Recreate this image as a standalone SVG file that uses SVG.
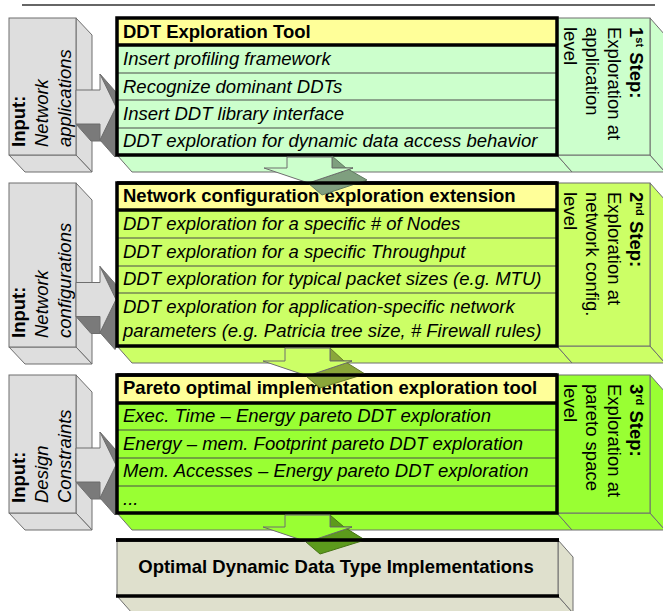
<svg xmlns="http://www.w3.org/2000/svg" width="663" height="611" viewBox="0 0 663 611">
<style>
text{font-family:"Liberation Sans",Arial,sans-serif;font-size:18.5px;fill:#000}
.b{font-weight:bold}
.i{font-style:italic}
.face{stroke:#6e6e6e;stroke-width:1}
.gray{fill:#dedede}
.dk{fill:#7a7a7a;stroke:#6e6e6e;stroke-width:1}
.main{stroke:#000;stroke-width:3.5}
.hdr{fill:#ffff99}
.row{stroke:#4a4a4a;stroke-width:1.2}
.g1{fill:#ccffcc}
.g2{fill:#ccff66}
.g3{fill:#99ff33}
.g4{fill:#dfe0cd}
.d1{fill:#7f9f7f;stroke:#5e7a5e;stroke-width:1}
.d2{fill:#8aa63a;stroke:#667a2a;stroke-width:1}
.d3{fill:#5c9a1c;stroke:#467514;stroke-width:1}
</style>
<line x1="22" y1="5" x2="655" y2="5" stroke="#333" stroke-width="1.5"/>

<!-- Input 1 -->
<g id="input1">
<polygon class="face gray" points="76,18 92,35 92,172 76,155"/>
<polygon class="face gray" points="9,155 76,155 92,172 25,172"/>
<rect class="face gray" x="9" y="18" width="67" height="137"/>
<polygon class="dk" points="76,124 100,124 115,141 91,141"/>
<polygon class="dk" points="116,107 100,140 115,157 131,124"/>
<polygon class="dk" points="100,74 115,91 131,124 116,107"/>
<polygon class="face gray" points="76,90 100,90 100,74 116,107 100,140 100,124 76,124"/>
<g transform="translate(25,147) rotate(-90)">
<text x="0" y="0" class="b">Input:</text>
<text x="0" y="23" class="i">Network</text>
<text x="0" y="46" class="i">applications</text>
</g>
</g>

<!-- Input 2 -->
<g id="input2">
<polygon class="face gray" points="76,183 92,200 92,364 76,347"/>
<polygon class="face gray" points="9,347 76,347 92,364 25,364"/>
<rect class="face gray" x="9" y="183" width="67" height="164"/>
<polygon class="dk" points="76,316.5 100,316.5 115,333.5 91,333.5"/>
<polygon class="dk" points="116,299.5 100,332.5 115,349.5 131,316.5"/>
<polygon class="dk" points="100,266.5 115,283.5 131,316.5 116,299.5"/>
<polygon class="face gray" points="76,282.5 100,282.5 100,266.5 116,299.5 100,332.5 100,316.5 76,316.5"/>
<g transform="translate(25,338) rotate(-90)">
<text x="0" y="0" class="b">Input:</text>
<text x="0" y="23" class="i">Network</text>
<text x="0" y="46" class="i">configurations</text>
</g>
</g>

<!-- Input 3 -->
<g id="input3">
<polygon class="face gray" points="76,375 92,392 92,530 76,513"/>
<polygon class="face gray" points="9,513 76,513 92,530 25,530"/>
<rect class="face gray" x="9" y="375" width="67" height="138"/>
<polygon class="dk" points="76,482 100,482 115,499 91,499"/>
<polygon class="dk" points="116,465 100,498 115,515 131,482"/>
<polygon class="dk" points="100,432 115,449 131,482 116,465"/>
<polygon class="face gray" points="76,448 100,448 100,432 116,465 100,498 100,482 76,482"/>
<g transform="translate(25,503) rotate(-90)">
<text x="0" y="0" class="b">Input:</text>
<text x="0" y="23" class="i">Design</text>
<text x="0" y="46" class="i">Constraints</text>
</g>
</g>

<!-- Block 1 -->
<g id="block1">
<polygon class="face g1" points="117,155 557,155 572,172 132,172"/>
<polygon class="face g1" points="557,155 650,155 665,172 572,172"/>
<polygon class="face g1" points="650,18 665,35 665,172 650,155"/>
<rect class="face g1" x="557" y="18" width="93" height="137"/>
<rect class="g1" x="117" y="18" width="440" height="137"/>
<rect class="hdr" x="117" y="18" width="440" height="27"/>
<line class="row" x1="117" y1="73" x2="557" y2="73"/>
<line class="row" x1="117" y1="100" x2="557" y2="100"/>
<line class="row" x1="117" y1="128" x2="557" y2="128"/>
<line class="main" x1="117" y1="45" x2="557" y2="45"/>
<rect class="main" x="117" y="18" width="440" height="137" fill="none"/>
<text x="123" y="37.5" class="b">DDT Exploration Tool</text>
<text x="123" y="65" class="i">Insert profiling framework</text>
<text x="123" y="92.5" class="i">Recognize dominant DDTs</text>
<text x="123" y="120" class="i">Insert DDT library interface</text>
<text x="123" y="147" class="i">DDT exploration for dynamic data access behavior</text>
<g transform="translate(630,27) rotate(90)">
<text x="0" y="0" class="b">1<tspan font-size="11" baseline-shift="super">st</tspan> Step:</text>
<text x="0" y="22">Exploration at</text>
<text x="0" y="44">application</text>
<text x="0" y="66">level</text>
</g>
</g>

<!-- Block 2 -->
<g id="block2">
<polygon class="face g2" points="117,346 557,346 572,363 132,363"/>
<polygon class="face g2" points="557,346 650,346 665,363 572,363"/>
<polygon class="face g2" points="650,183 665,200 665,363 650,346"/>
<rect class="face g2" x="557" y="183" width="93" height="163"/>
<rect class="g2" x="117" y="183" width="440" height="163"/>
<rect class="hdr" x="117" y="183" width="440" height="27"/>
<line class="row" x1="117" y1="238" x2="557" y2="238"/>
<line class="row" x1="117" y1="266" x2="557" y2="266"/>
<line class="row" x1="117" y1="293" x2="557" y2="293"/>
<line class="main" x1="117" y1="210" x2="557" y2="210"/>
<rect class="main" x="117" y="183" width="440" height="163" fill="none"/>
<text x="123" y="202" class="b">Network configuration exploration extension</text>
<text x="123" y="230" class="i">DDT exploration for a specific # of Nodes</text>
<text x="123" y="257.5" class="i">DDT exploration for a specific Throughput</text>
<text x="123" y="284.5" class="i">DDT exploration for typical packet sizes (e.g. MTU)</text>
<text x="123" y="313" class="i">DDT exploration for application-specific network</text>
<text x="123" y="337" class="i">parameters (e.g. Patricia tree size, # Firewall rules)</text>
<g transform="translate(630,192) rotate(90)">
<text x="0" y="0" class="b">2<tspan font-size="11" baseline-shift="super">nd</tspan> Step:</text>
<text x="0" y="22">Exploration at</text>
<text x="0" y="44">network config.</text>
<text x="0" y="66">level</text>
</g>
</g>

<!-- Block 3 -->
<g id="block3">
<polygon class="face g3" points="117,513 557,513 572,530 132,530"/>
<polygon class="face g3" points="557,513 650,513 665,530 572,530"/>
<polygon class="face g3" points="650,375 665,392 665,530 650,513"/>
<rect class="face g3" x="557" y="375" width="93" height="138"/>
<rect class="g3" x="117" y="375" width="440" height="138"/>
<rect class="hdr" x="117" y="375" width="440" height="28"/>
<line class="row" x1="117" y1="430" x2="557" y2="430"/>
<line class="row" x1="117" y1="458" x2="557" y2="458"/>
<line class="row" x1="117" y1="486" x2="557" y2="486"/>
<line class="main" x1="117" y1="403" x2="557" y2="403"/>
<rect class="main" x="117" y="375" width="440" height="138" fill="none"/>
<text x="123" y="394" class="b">Pareto optimal implementation exploration tool</text>
<text x="123" y="422" class="i">Exec. Time – Energy pareto DDT exploration</text>
<text x="123" y="449.5" class="i">Energy – mem. Footprint pareto DDT exploration</text>
<text x="123" y="477" class="i">Mem. Accesses – Energy pareto DDT exploration</text>
<text x="123" y="505" class="i">...</text>
<g transform="translate(630,384) rotate(90)">
<text x="0" y="0" class="b">3<tspan font-size="11" baseline-shift="super">rd</tspan> Step:</text>
<text x="0" y="22">Exploration at</text>
<text x="0" y="44">pareto space</text>
<text x="0" y="66">level</text>
</g>
</g>

<!-- Block 4 -->
<g id="block4">
<polygon class="face g4" points="117,596 558,596 573,613 132,613"/>
<polygon class="face g4" points="558,540 573,557 573,613 558,596"/>
<rect class="face g4" x="117" y="540" width="441" height="56"/>
<line class="main" x1="116" y1="540" x2="559" y2="540"/>
<line class="main" x1="116" y1="596" x2="559" y2="596"/>
<text x="336" y="573" class="b" text-anchor="middle">Optimal Dynamic Data Type Implementations</text>
</g>

<!-- connectors: flow arrows between stages -->
<g id="connectors">
<polygon class="d1" points="332,156 346,168 367,180 322,195 308,183 353,168 332,168"/>
<polygon class="face g1" points="287,157 332,157 332,168 353,168 308.5,183 264,168 287,168"/>
<polygon class="d2" points="330,348 344,361 365,374 320,388 306,376 352,361 330,361"/>
<polygon class="face g2" points="285,348 330,348 330,361 352,361 307.5,376 263,361 285,361"/>
<polygon class="d3" points="330,515 344,527 365,540 320,554 306,542 352,527 330,527"/>
<polygon class="face g3" points="285,515 330,515 330,527 352,527 307.5,542 263,527 285,527"/>
</g>
<!-- redraw top edges of following blocks over arrow tips -->
<line class="main" x1="117" y1="183" x2="557" y2="183"/>
<line class="main" x1="117" y1="375" x2="557" y2="375"/>
<line class="main" x1="116" y1="540" x2="559" y2="540"/>
</svg>
